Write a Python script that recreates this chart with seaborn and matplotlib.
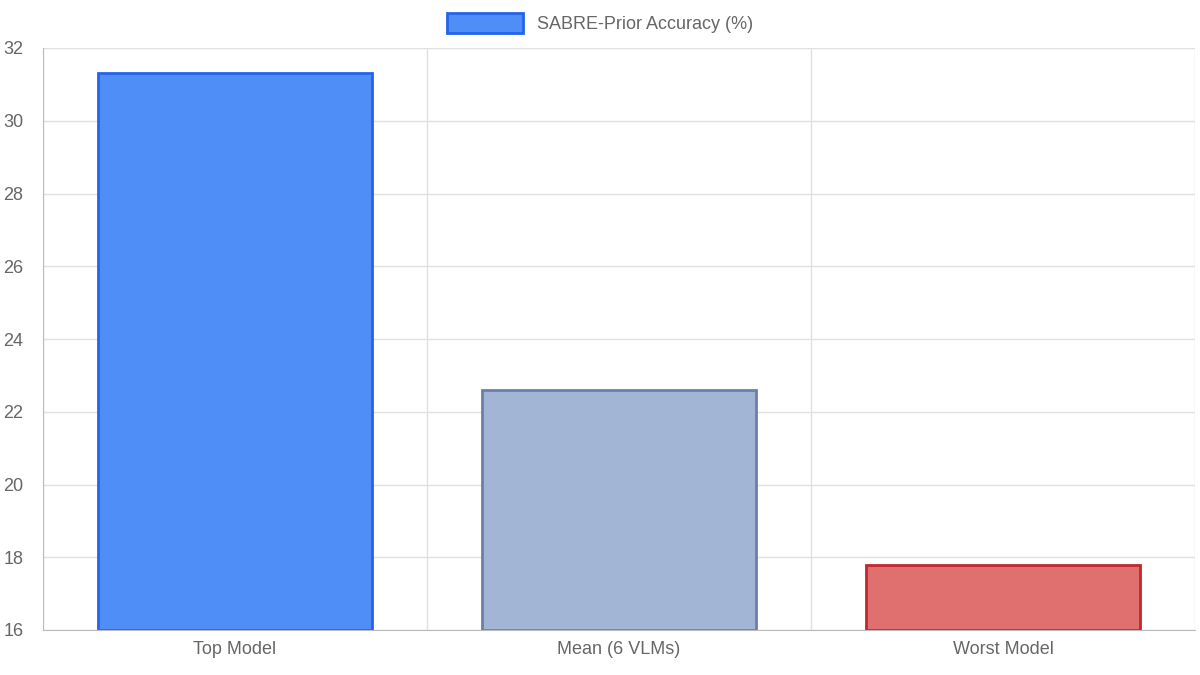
import matplotlib
matplotlib.use("Agg")
import matplotlib.pyplot as plt
from matplotlib.patches import Patch
import seaborn as sns
import pandas as pd

categories = ["Top Model", "Mean (6 VLMs)", "Worst Model"]
accuracy = [31.3, 22.6, 17.8]
fill_colors = ["#4f8ef7", "#a3b5d4", "#e07070"]
edge_colors = ["#2563eb", "#6b7fad", "#c0282d"]
y_ticks = [16, 18, 20, 22, 24, 26, 28, 30, 32]

sns.set_style("white")
plt.rcParams["font.family"] = ["Liberation Sans", "DejaVu Sans"]

df = pd.DataFrame({"category": categories, "accuracy": accuracy})

fig = plt.figure(figsize=(12, 6.75), dpi=100)
ax = fig.add_axes([43 / 1200, 1 - 630 / 675, 1152 / 1200, 582 / 675])
sns.barplot(data=df, x="category", y="accuracy", width=0.716, ax=ax)
for patch, fc, ec in zip(ax.patches, fill_colors, edge_colors):
    patch.set_facecolor(fc)
    patch.set_edgecolor(ec)
    patch.set_linewidth(2)
    # bars start from the axis floor
    patch.set_y(16)
    patch.set_height(patch.get_height() - 16)

ax.set_xlim(-0.5, 2.5)
ax.set_ylim(16, 32)
ax.set_yticks(y_ticks)
ax.set_xlabel("")
ax.set_ylabel("")

ax.set_xticks([-0.5, 0.5, 1.5, 2.5], minor=True)
ax.grid(True, which="minor", axis="x", color="#e0e0e0", lw=1)
ax.grid(True, which="major", axis="y", color="#e0e0e0", lw=1)
ax.set_axisbelow(True)
ax.tick_params(axis="x", which="major", length=0, pad=8, labelsize=13, labelcolor="#666666")
ax.tick_params(axis="x", which="minor", length=14, color="#d0d0d0")
ax.tick_params(axis="y", length=0, pad=14, labelsize=13, labelcolor="#666666")
for side in ["top", "right"]:
    ax.spines[side].set_visible(False)
for side in ["left", "bottom"]:
    ax.spines[side].set_color("#bbbbbb")

handle = Patch(facecolor=fill_colors[0], edgecolor=edge_colors[0], linewidth=2)
fig.legend([handle], ["SABRE-Prior Accuracy (%)"], loc="center", bbox_to_anchor=(0.5, 1 - 23 / 675),
           frameon=False, fontsize=13, labelcolor="#666666", handlelength=4.2, handleheight=1.3)

fig.savefig("out.png", dpi=100)
